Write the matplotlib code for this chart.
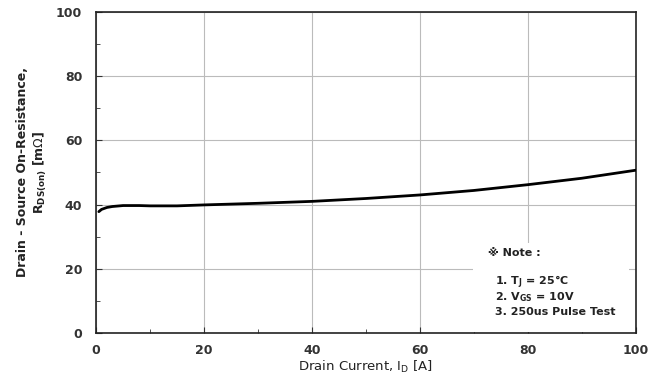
import matplotlib.pyplot as plt
from matplotlib.ticker import MultipleLocator
from matplotlib.patches import Rectangle

# drain current [A] vs on-resistance [mOhm]
drain_current = [0.5, 1, 2, 3, 5, 8, 10, 15, 20, 30, 40, 50, 60, 70, 80, 90, 100]
rds_on = [37.8, 38.5, 39.1, 39.4, 39.7, 39.7, 39.6, 39.6, 39.9, 40.4,
          41.0, 41.9, 43.0, 44.4, 46.2, 48.2, 50.7]

x_ticks = [0, 20, 40, 60, 80, 100]
y_ticks = [0, 20, 40, 60, 80, 100]

note_title = '\u203b Note :'
note_lines = ['1. T$_\\mathregular{J}$ = 25\u00b0C',
              '2. V$_\\mathregular{GS}$ = 10V',
              '3. 250us Pulse Test']

plt.rcParams['font.family'] = ['DejaVu Sans']

fig = plt.figure(figsize=(6.54, 3.85), dpi=100)
ax = fig.add_axes([0.147, 0.135, 0.825, 0.834])

ax.plot(drain_current, rds_on, color='black', linewidth=2.0, solid_capstyle='round', zorder=3)

ax.set_xlim(0, 100)
ax.set_ylim(0, 100)
ax.set_xticks(x_ticks)
ax.set_yticks(y_ticks)
ax.xaxis.set_minor_locator(MultipleLocator(10))
ax.yaxis.set_minor_locator(MultipleLocator(10))
ax.tick_params(which='both', direction='in', color='#333333')
ax.tick_params(which='major', length=4, labelsize=9, labelcolor='#333333')
ax.tick_params(axis='x', which='major', pad=8)
ax.tick_params(axis='y', which='major', pad=10)
ax.tick_params(which='minor', length=3)
for lab in ax.get_xticklabels() + ax.get_yticklabels():
    lab.set_fontweight('bold')
ax.grid(True, which='major', color='#bbbbbb', linewidth=0.8, zorder=1)
for s in ax.spines.values():
    s.set_linewidth(1.2)
    s.set_color('#222222')

ax.set_xlabel(r'Drain Current, I$_\mathregular{D}$ [A]', fontsize=9.5, color='#222222', labelpad=1)
ax.set_ylabel('Drain - Source On-Resistance,\n' + r'R$_\mathregular{DS(on)}$ [m$\Omega$]',
              fontsize=9, color='#222222', fontweight='bold', labelpad=5)

# note box covering the grid
ax.add_patch(Rectangle((0.698, 0.004), 0.29, 0.276, transform=ax.transAxes,
                       facecolor='white', edgecolor='none', zorder=2))
ax.text(0.726, 0.249, note_title, transform=ax.transAxes, fontsize=8,
        fontweight='bold', color='#222222', va='center', ha='left', zorder=4)
for i, line in enumerate(note_lines):
    ax.text(0.739, 0.159 - i * 0.047, line, transform=ax.transAxes, fontsize=8,
            fontweight='bold', color='#222222', va='center', ha='left', zorder=4)

fig.savefig('out.png', dpi=100)
